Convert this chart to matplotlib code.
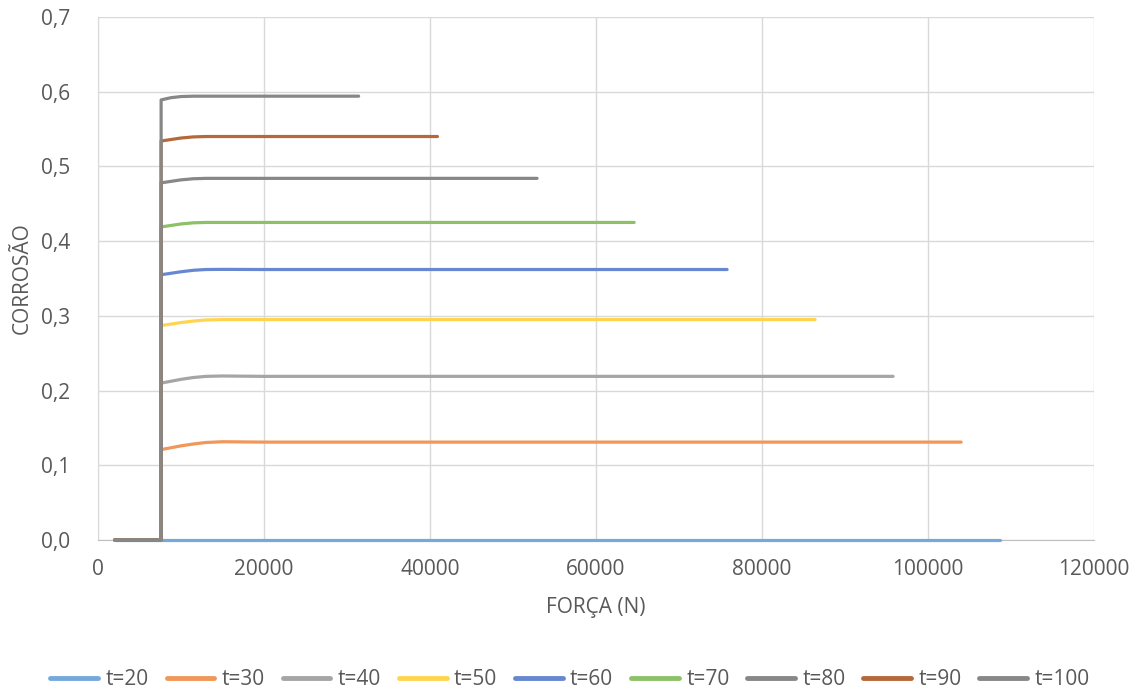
import numpy as np
import matplotlib
matplotlib.use("Agg")
import matplotlib.pyplot as plt
from matplotlib.ticker import FuncFormatter

plt.rcParams['font.family'] = ['Open Sans', 'DejaVu Sans']

# series labels and colours
labels = ["t=20", "t=30", "t=40", "t=50", "t=60", "t=70", "t=80", "t=90", "t=100"]
colors = ["#75A9DC", "#F1975A", "#A5A5A5", "#FFD54F", "#6788D0",
          "#8CC168", "#878787", "#B5693A", "#878787"]

# force values (N) shared by every series up to the plateau
x_start = [2000, 7600, 7600, 8800, 10000, 11500, 13000, 15000, 20000]
# last force value of each series
x_end = [108700, 104000, 95800, 86400, 75800, 64600, 52900, 40900, 31400]

# corrosion values at x_start points (plateau kept to x_end)
y_vals = [
    [0, 0, 0.0, 0.0, 0.0, 0.0, 0.0, 0.0, 0.0],
    [0, 0, 0.121, 0.1235, 0.126, 0.1285, 0.1305, 0.1315, 0.131],
    [0, 0, 0.210, 0.2125, 0.215, 0.2175, 0.219, 0.2195, 0.219],
    [0, 0, 0.287, 0.289, 0.291, 0.293, 0.2945, 0.295, 0.295],
    [0, 0, 0.355, 0.357, 0.359, 0.361, 0.362, 0.3622, 0.362],
    [0, 0, 0.419, 0.421, 0.423, 0.4245, 0.425, 0.425, 0.425],
    [0, 0, 0.478, 0.480, 0.482, 0.4835, 0.484, 0.484, 0.484],
    [0, 0, 0.534, 0.536, 0.538, 0.5395, 0.540, 0.540, 0.540],
    [0, 0, 0.589, 0.592, 0.5935, 0.594, 0.594, 0.594, 0.594],
]

fig = plt.figure(figsize=(11.4, 6.9), dpi=100)
ax = fig.add_axes([0.086, 0.2174, 0.8736, 0.758])

for lab, col, ys, xe in zip(labels, colors, y_vals, x_end):
    xs = x_start + [xe]
    yy = ys + [ys[-1]]
    ax.plot(xs, yy, color=col, lw=2.3, label=lab, solid_capstyle='round',
            solid_joinstyle='round', clip_on=False, zorder=3)

ax.set_xlim(0, 120000)
ax.set_ylim(0, 0.7)
ax.set_xticks(np.arange(0, 120001, 20000))
ax.set_yticks(np.arange(0, 0.71, 0.1))
ax.yaxis.set_major_formatter(FuncFormatter(lambda v, p: f"{v:.1f}".replace(".", ",")))
ax.xaxis.set_major_formatter(FuncFormatter(lambda v, p: f"{int(v)}"))

ax.grid(True, color="#D9D9D9", lw=1)
ax.set_axisbelow(True)
for s in ["top", "right"]:
    ax.spines[s].set_visible(False)
ax.spines["left"].set_color("#D9D9D9")
ax.spines["bottom"].set_color("#BFBFBF")
ax.tick_params(axis="x", length=0, labelsize=15, colors="#595959", pad=14)
ax.tick_params(axis="y", length=0, labelsize=15, colors="#595959", pad=20)

ax.set_xlabel("FORÇA (N)", fontsize=15, color="#595959", labelpad=12)
ax.set_ylabel("CORROSÃO", fontsize=15, color="#595959", labelpad=6)

leg = fig.legend(loc="lower center", bbox_to_anchor=(0.5, -0.027), ncol=9, frameon=False,
                 fontsize=15, labelcolor="#595959", handlelength=2.3, columnspacing=0.85,
                 handletextpad=0.35)
for h in leg.get_lines():
    h.set_linewidth(3.5)

fig.savefig("out.png", dpi=100)
